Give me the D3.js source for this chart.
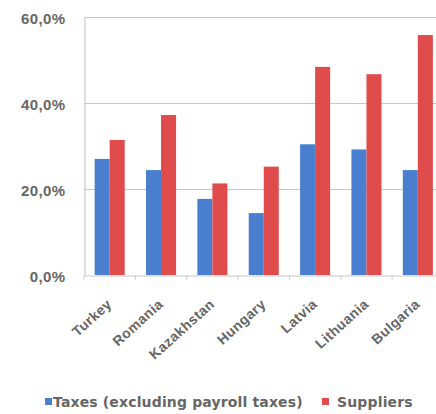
<!DOCTYPE html>
<html>
<head>
<meta charset="utf-8">
<script src="https://cdn.jsdelivr.net/npm/d3@7/dist/d3.min.js"></script>
<style>
  html, body { margin: 0; padding: 0; background: #fff; }
  svg { display: block; font-family: "DejaVu Sans", sans-serif; }
  .lbl { font-size: 14px; font-weight: bold; letter-spacing: 0.4px; }
  .ytick { font-size: 15px; }
  .leg { letter-spacing: 0.15px; }
</style>
</head>
<body>
<svg id="chart" width="436" height="414"></svg>
<script>
// Share of respondents citing each creditor type, by country
const countries = ["Turkey", "Romania", "Kazakhstan", "Hungary", "Latvia", "Lithuania", "Bulgaria"];
const seriesNames = ["Taxes (excluding payroll taxes)", "Suppliers"];
const taxes = [27.0, 24.4, 17.7, 14.4, 30.4, 29.2, 24.4];
const suppliers = [31.4, 37.2, 21.3, 25.2, 48.4, 46.7, 55.8];
const yTicks = [0, 20, 40, 60];
const colors = ["#4a7fd0", "#e04b4b"];

const svg = d3.select("#chart");
const margin = { top: 17, left: 84, bottom: 275 };
const plotRight = 443.5;
const textColor = "#666666";
const gridColor = "#c8c8c8";

const pad = 0.415;
const x = d3.scaleBand().domain(countries).range([margin.left, plotRight]).paddingInner(pad).paddingOuter(pad / 2);
const y = d3.scaleLinear().domain([0, 60]).range([margin.bottom, margin.top]);
const xSub = d3.scaleBand().domain(seriesNames).range([0, x.bandwidth()]);

const fmt = v => d3.format(".1f")(v).replace(".", ",") + "%";

// horizontal gridlines
svg.append("g").selectAll("line").data(yTicks.filter(t => t > 0)).join("line")
  .attr("x1", margin.left).attr("x2", 436)
  .attr("y1", d => y(d) + 0.5).attr("y2", d => y(d) + 0.5)
  .attr("stroke", gridColor).attr("stroke-width", 1.2);

// y axis
const yAxis = svg.append("g").attr("transform", `translate(${margin.left + 0.5},0)`)
  .call(d3.axisLeft(y).tickValues(yTicks).tickFormat(fmt).tickSize(0).tickPadding(19));
yAxis.select(".domain").attr("stroke", gridColor).attr("stroke-width", 1.2);
yAxis.selectAll("text").attr("class", "lbl ytick").attr("font-size", null).attr("fill", textColor).attr("dy", "0.4em");

// bars
const rows = countries.map((c, i) => ({ country: c, values: [taxes[i], suppliers[i]] }));
const groups = svg.append("g").selectAll("g").data(rows).join("g")
  .attr("transform", d => `translate(${x(d.country)},0)`);
groups.selectAll("rect").data(d => d.values.map((v, k) => ({ v, k }))).join("rect")
  .attr("x", d => xSub(seriesNames[d.k]))
  .attr("width", xSub.bandwidth())
  .attr("y", d => y(d.v))
  .attr("height", d => y(0) - y(d.v))
  .attr("fill", d => colors[d.k]);

// x axis
const xAxis = svg.append("g").attr("transform", `translate(0,${margin.bottom + 0.5})`)
  .call(d3.axisBottom(x).tickSize(0));
xAxis.select(".domain").attr("stroke", gridColor).attr("stroke-width", 1.2);
// small tick marks on the category boundaries
xAxis.selectAll(".sep").data(d3.range(countries.length + 1)).join("line")
  .attr("class", "sep")
  .attr("x1", i => margin.left + x.step() * i)
  .attr("x2", i => margin.left + x.step() * i)
  .attr("y1", 0).attr("y2", 4)
  .attr("stroke", gridColor);
xAxis.selectAll(".tick text")
  .attr("class", "lbl").attr("font-size", null).attr("fill", textColor)
  .attr("text-anchor", "end")
  .attr("x", 0).attr("y", 0).attr("dy", 0)
  .attr("transform", "translate(3,30) rotate(-42)");

// legend
const legend = svg.append("g").attr("transform", "translate(45,402)");
const items = [{ name: seriesNames[0], color: colors[0], x: 0, gap: 8 }, { name: seriesNames[1], color: colors[1], x: 277, gap: 15 }];
const li = legend.selectAll("g").data(items).join("g").attr("transform", d => `translate(${d.x},0)`);
li.append("rect").attr("x", 0).attr("y", -4).attr("width", 7).attr("height", 7).attr("fill", d => d.color);
li.append("text").attr("class", "lbl leg").attr("x", d => d.gap).attr("y", 0).attr("dy", "0.35em")
  .attr("fill", textColor).text(d => d.name);
</script>
</body>
</html>
